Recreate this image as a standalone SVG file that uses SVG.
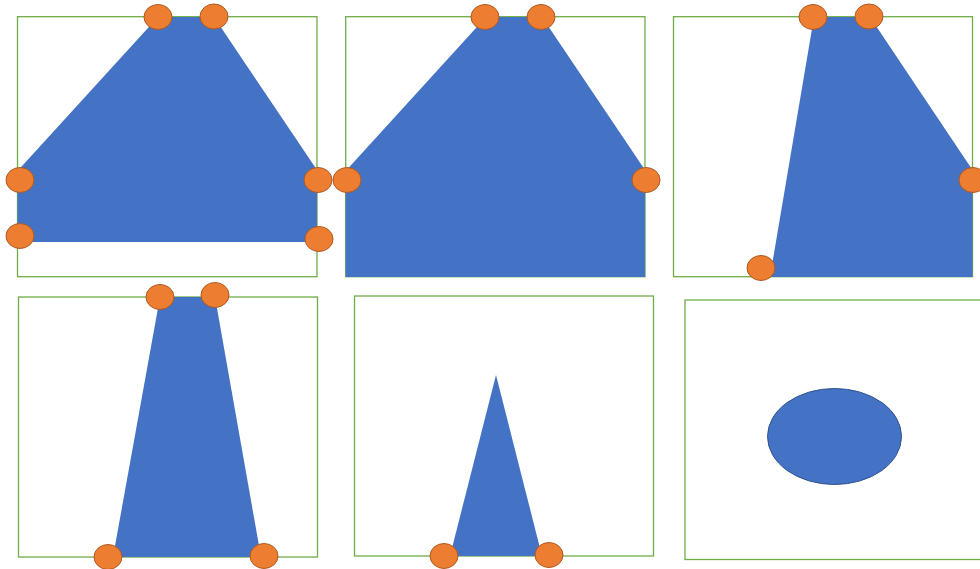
<svg xmlns="http://www.w3.org/2000/svg" width="980" height="569" viewBox="0 0 980 569">
<style>
.frame{fill:none;stroke:#70AD47;stroke-width:1.3}
.shape{fill:#4472C4;stroke:none}
.pt{fill:#ED7D31;stroke:#AE5A21;stroke-width:1}
</style>
<rect width="980" height="569" fill="#fff"/>
<g id="panel1">
<rect class="frame" x="17.5" y="16.7" width="299.5" height="260"/>
<polygon class="shape" points="158,17 214,17 317,170 317,242 17.5,242 17.5,171"/>
<ellipse class="pt" cx="158" cy="17" rx="14" ry="12.5"/>
<ellipse class="pt" cx="214" cy="16.5" rx="14" ry="12.5"/>
<ellipse class="pt" cx="20" cy="180" rx="14" ry="12.5"/>
<ellipse class="pt" cx="318" cy="180" rx="14" ry="12.5"/>
<ellipse class="pt" cx="20" cy="236" rx="14" ry="12.5"/>
<ellipse class="pt" cx="319" cy="239" rx="14" ry="12.5"/>
</g>
<g id="panel2">
<rect class="frame" x="345.7" y="16.7" width="299.3" height="260"/>
<polygon class="shape" points="486,17 542,17 645,170 645,277 345.7,277 345.7,171"/>
<ellipse class="pt" cx="485" cy="17" rx="14" ry="12.5"/>
<ellipse class="pt" cx="541" cy="17" rx="14" ry="12.5"/>
<ellipse class="pt" cx="347" cy="180" rx="14" ry="12.5"/>
<ellipse class="pt" cx="646" cy="180" rx="14" ry="12.5"/>
</g>
<g id="panel3">
<rect class="frame" x="673.5" y="16.7" width="299" height="260"/>
<polygon class="shape" points="814,17 870,17 972.5,170 972.5,277 770,277"/>
<ellipse class="pt" cx="813" cy="17" rx="14" ry="12.5"/>
<ellipse class="pt" cx="869" cy="16.5" rx="14" ry="12.5"/>
<ellipse class="pt" cx="973" cy="180" rx="14" ry="12.5"/>
<ellipse class="pt" cx="761" cy="268" rx="14" ry="12.5"/>
</g>
<g id="panel4">
<rect class="frame" x="18.5" y="297" width="299" height="260"/>
<polygon class="shape" points="160,297 215,297 261,557 113,557"/>
<ellipse class="pt" cx="160" cy="297" rx="14" ry="12.5"/>
<ellipse class="pt" cx="215" cy="295" rx="14" ry="12.5"/>
<ellipse class="pt" cx="108" cy="557" rx="14" ry="12.5"/>
<ellipse class="pt" cx="264" cy="556" rx="14" ry="12.5"/>
</g>
<g id="panel5">
<rect class="frame" x="354.5" y="296" width="299" height="260"/>
<polygon class="shape" points="496,375 542,556 450,556"/>
<ellipse class="pt" cx="444" cy="556" rx="14" ry="12.5"/>
<ellipse class="pt" cx="549" cy="555" rx="14" ry="12.5"/>
</g>
<g id="panel6">
<rect class="frame" x="685" y="300" width="310" height="259.5"/>
<ellipse cx="834.5" cy="436.5" rx="67" ry="48" fill="#4472C4" stroke="#2F528F" stroke-width="1"/>
</g>
</svg>
